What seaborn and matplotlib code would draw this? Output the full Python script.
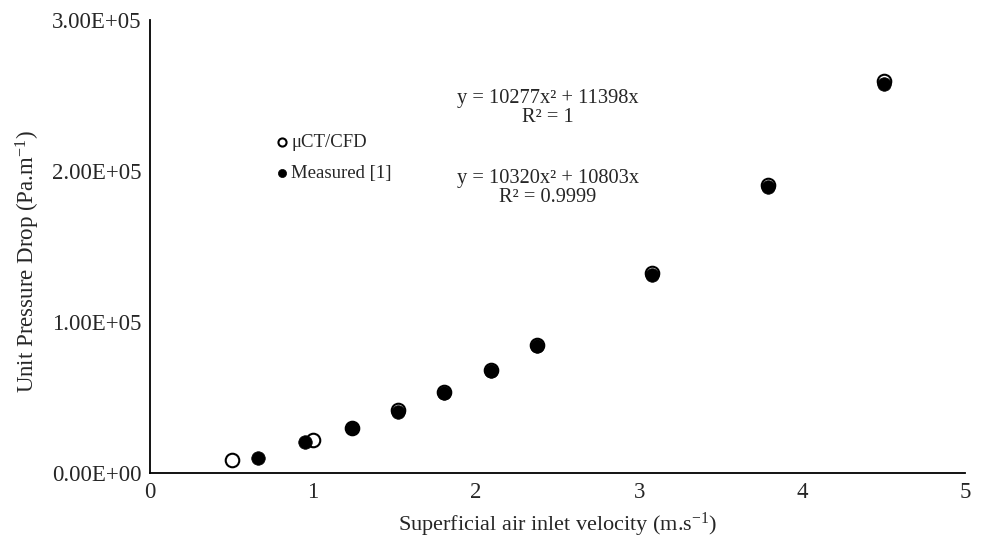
import numpy as np
import matplotlib
matplotlib.use("Agg")
import matplotlib.pyplot as plt
from matplotlib.ticker import FuncFormatter
import seaborn as sns
import pandas as pd

# values
ct_velocity = [0.50, 1.00, 1.24, 1.52, 1.80, 2.09, 2.37, 3.08, 3.79, 4.50]
ct_dp = [8700, 22000, 30000, 41800, 54000, 68500, 84700, 132500, 191000, 259600]
meas_velocity = [0.66, 0.95, 1.24, 1.52, 1.80, 2.09, 2.37, 3.08, 3.79, 4.50]
meas_dp = [10000, 20800, 30000, 40500, 53500, 68000, 84400, 131500, 189800, 257800]

fit_ct = "y = 10277x\u00b2 + 11398x\nR\u00b2 = 1"
fit_meas = "y = 10320x\u00b2 + 10803x\nR\u00b2 = 0.9999"

df = pd.concat([
    pd.DataFrame({"v": ct_velocity, "dp": ct_dp, "src": "\u03bcCT/CFD"}),
    pd.DataFrame({"v": meas_velocity, "dp": meas_dp, "src": "Measured [1]"}),
])

sns.set_style("white")
plt.rcParams["font.family"] = ["Liberation Serif", "DejaVu Serif"]
plt.rcParams["mathtext.fontset"] = "custom"
plt.rcParams["mathtext.rm"] = "Liberation Serif"
plt.rcParams["mathtext.it"] = "Liberation Serif"

fig = plt.figure(figsize=(9.81, 5.43), dpi=100)
ax = fig.add_axes([0.153, 0.128, 0.831, 0.835])

sns.scatterplot(data=df[df.src == "\u03bcCT/CFD"], x="v", y="dp", ax=ax,
                s=95, facecolor="white", edgecolor="black", linewidth=1.5,
                label="\u03bcCT/CFD", zorder=2)
sns.scatterplot(data=df[df.src == "Measured [1]"], x="v", y="dp", ax=ax,
                s=95, color="black", edgecolor="black", linewidth=0.5,
                label="Measured [1]", zorder=3)

ax.set_xlim(0, 5)
ax.set_ylim(0, 3e5)
ax.set_xticks([0, 1, 2, 3, 4, 5])
ax.set_yticks([0, 1e5, 2e5, 3e5])
ax.yaxis.set_major_formatter(FuncFormatter(lambda v, p: f"{v:.2E}"))
ax.tick_params(length=0, labelsize=16.5, pad=6)

for s in ["top", "right"]:
    ax.spines[s].set_visible(False)
for s in ["left", "bottom"]:
    ax.spines[s].set_color("black")
    ax.spines[s].set_linewidth(1.3)

ax.set_xlabel("Superficial air inlet velocity (m.s$^{-1}$)", fontsize=16, labelpad=6)
ax.set_ylabel("Unit Pressure Drop (Pa.m$^{-1}$)", fontsize=16.5)
ax.yaxis.set_label_coords(-0.132, 0.467)

ax.text(2.44, 2.42e5, fit_ct, ha="center", va="center", fontsize=14.7,
        linespacing=1.0)
ax.text(2.44, 1.89e5, fit_meas, ha="center", va="center", fontsize=14.7,
        linespacing=1.0)

leg = ax.legend(loc="upper left", bbox_to_anchor=(0.141, 0.765), frameon=False,
                fontsize=13.5, handlelength=1.0, handletextpad=0.0,
                labelspacing=0.71, markerscale=0.6, borderaxespad=0)

fig.savefig("out.png", dpi=100)
